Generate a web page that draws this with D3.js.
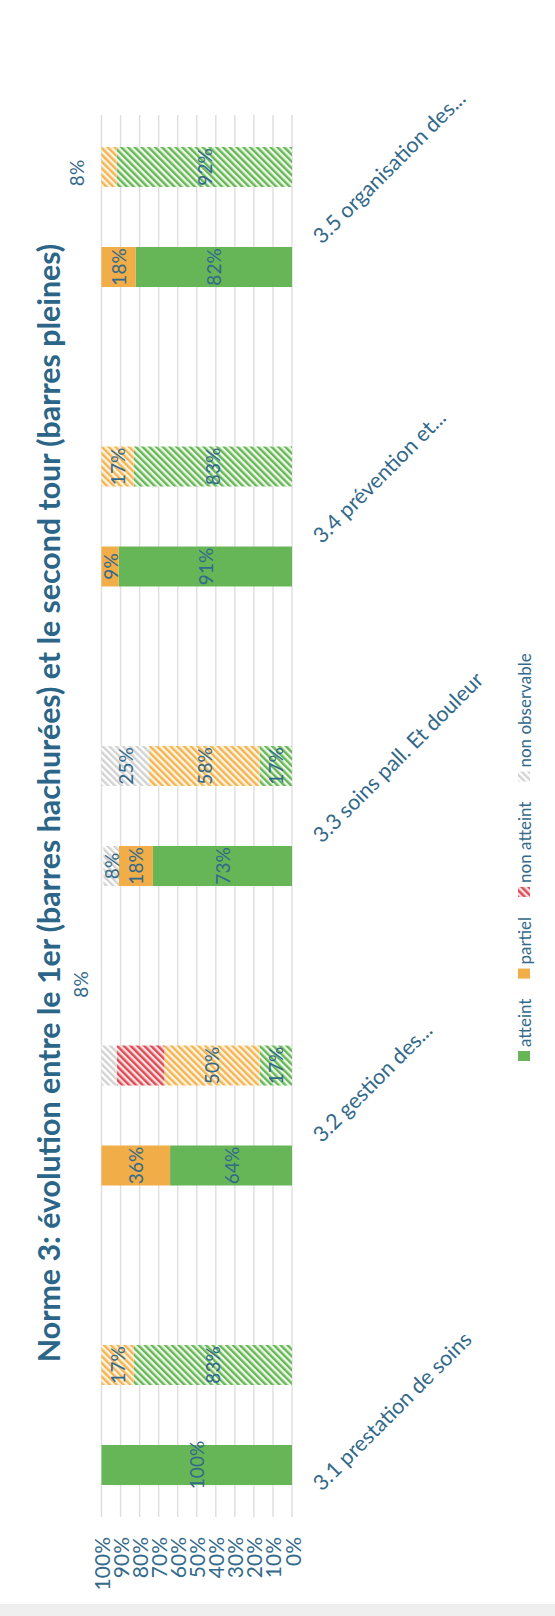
<!DOCTYPE html>
<html>
<head>
<meta charset="utf-8">
<script src="https://cdn.jsdelivr.net/npm/d3@7"></script>
<style>
  html, body { margin: 0; padding: 0; background: #ffffff; }
  svg { display: block; }
  text { font-family: Lato, "Open Sans", "DejaVu Sans", sans-serif; }
</style>
</head>
<body>
<svg id="chart" width="555" height="1616"></svg>
<script>
// ---- Data -------------------------------------------------------------
const categories = [
  "3.1 prestation de soins",
  "3.2 gestion des...",
  "3.3 soins pall. Et douleur",
  "3.4 prévention et...",
  "3.5 organisation des..."
];
const tours = ["second", "premier"];            // barres pleines, barres hachurées
const statuses = ["atteint", "partiel", "non atteint", "non observable"];

// second tour (barres pleines), in %
const secondAtteint       = [100, 64, 73, 91, 82];
const secondPartiel       = [0, 36, 18, 9, 18];
const secondNonAtteint    = [0, 0, 0, 0, 0];
const secondNonObservable = [0, 0, 8, 0, 0];

// premier tour (barres hachurées), in %
const premierAtteint       = [83, 17, 17, 83, 92];
const premierPartiel       = [17, 50, 58, 17, 8];
const premierNonAtteint    = [0, 25, 0, 0, 0];
const premierNonObservable = [0, 8, 25, 0, 0];

const yTicks = [0, 10, 20, 30, 40, 50, 60, 70, 80, 90, 100];
const titleText = "Norme 3: évolution entre le 1er (barres hachurées) et le second tour (barres pleines)";

// ---- Layout -----------------------------------------------------------
// The chart is laid out in a landscape frame (1616 x 555) and turned
// a quarter turn counter-clockwise onto the portrait page.
const W = 1616, H = 555;
const textColor = "#33698a";
const colors = { "atteint": "#66b657", "partiel": "#f0ad48", "non atteint": "#e04f56", "non observable": "#c8c8c8" };

// labels moved off their tiny segment: [dx along the axis, position across]
const labelMoved = { "premier|1|non observable": [81, 80], "premier|4|partiel": [-6, 76] };
const labelHidden = { "premier|1|non atteint": true };
// extra shift of the first category label along the axis
const catLabelShift = [-49, 0, 0, 0, 0];

const svg = d3.select("#chart");
const defs = svg.append("defs");

// diagonal hatch patterns for the first tour
function hatch(id, stripe, bg) {
  const p = defs.append("pattern")
    .attr("id", id)
    .attr("patternUnits", "userSpaceOnUse")
    .attr("width", 4.8).attr("height", 4.8)
    .attr("patternTransform", "rotate(45)");
  p.append("rect").attr("width", 4.8).attr("height", 4.8).attr("fill", bg);
  p.append("rect").attr("width", 2.4).attr("height", 4.8).attr("fill", stripe);
}
hatch("h-atteint", "#66b757", "#eef7e8");
hatch("h-partiel", "#f2b552", "#fdf3e2");
hatch("h-nonatteint", "#dc4a55", "#fbe1e1");
hatch("h-nonobs", "#d2d2d2", "#ffffff");
const hatchId = { "atteint": "h-atteint", "partiel": "h-partiel", "non atteint": "h-nonatteint", "non observable": "h-nonobs" };

// faint scan edge at the bottom of the page
svg.append("rect").attr("x", 0).attr("y", 1604).attr("width", 555).attr("height", 12).attr("fill", "#efefef");

const g = svg.append("g").attr("transform", `translate(0,${W}) rotate(-90)`);

// ---- Scales -----------------------------------------------------------
const x0 = d3.scaleBand().domain(categories).range([51.25, 1548.75]).padding(0);
const x1 = d3.scaleBand().domain(tours).range([-70, 70]).paddingInner(0.6).paddingOuter(0);
const y = d3.scaleLinear().domain([0, 100]).range([292, 101.5]);
const cx = c => x0(c) + x0.bandwidth() / 2;

// ---- Grid & value axis ------------------------------------------------
g.append("g").selectAll("line").data(yTicks).join("line")
  .attr("x1", 99).attr("x2", 1501)
  .attr("y1", d => y(d)).attr("y2", d => y(d))
  .attr("stroke", "#dedede").attr("stroke-width", 1.4);

g.append("g").selectAll("text").data(yTicks).join("text")
  .attr("x", 79).attr("y", d => y(d))
  .attr("text-anchor", "end").attr("dominant-baseline", "central")
  .attr("font-size", 21).attr("fill", textColor)
  .text(d => d + "%");

// ---- Stacked bars -----------------------------------------------------
const series = {
  second:  [secondAtteint, secondPartiel, secondNonAtteint, secondNonObservable],
  premier: [premierAtteint, premierPartiel, premierNonAtteint, premierNonObservable]
};
const stack = d3.stack().keys(statuses);

tours.forEach(tour => {
  const rows = categories.map((c, i) => {
    const r = { cat: c, idx: i };
    statuses.forEach((s, k) => { r[s] = series[tour][k][i]; });
    return r;
  });
  const layers = stack(rows);
  const tg = g.append("g");
  layers.forEach(layer => {
    const s = layer.key;
    const fill = tour === "second" && (s === "atteint" || s === "partiel")
      ? colors[s] : `url(#${hatchId[s]})`;
    tg.append("g").selectAll("rect").data(layer.filter(d => d[1] > d[0])).join("rect")
      .attr("x", d => cx(d.data.cat) + x1(tour))
      .attr("width", x1.bandwidth())
      .attr("y", d => y(d[1]))
      .attr("height", d => y(d[0]) - y(d[1]))
      .attr("fill", fill);
    tg.append("g").selectAll("text")
      .data(layer.filter(d => d[1] > d[0] && !labelHidden[`${tour}|${d.data.idx}|${s}`]))
      .join("text")
      .attr("x", d => {
        const m = labelMoved[`${tour}|${d.data.idx}|${s}`];
        return cx(d.data.cat) + x1(tour) + x1.bandwidth() / 2 + (m ? m[0] : 0);
      })
      .attr("y", d => {
        const m = labelMoved[`${tour}|${d.data.idx}|${s}`];
        return m ? m[1] : (y(d[0]) + y(d[1])) / 2;
      })
      .attr("text-anchor", "middle").attr("dominant-baseline", "central")
      .attr("font-size", 19).attr("fill", textColor)
      .text(d => (d[1] - d[0]) + "%");
  });
});

// ---- Category labels --------------------------------------------------
g.append("g").selectAll("text").data(categories).join("text")
  .attr("transform", (c, i) => `translate(${cx(c) - 28 + catLabelShift[i]},322) rotate(45)`)
  .attr("text-anchor", "start")
  .attr("font-size", 21.5).attr("fill", textColor)
  .text(c => c);

// ---- Title ------------------------------------------------------------
const title = g.append("text")
  .attr("x", 813).attr("y", 60)
  .attr("text-anchor", "middle")
  .attr("font-size", 25).attr("font-weight", "bold").attr("fill", "#2b6688")
  .text(titleText);
// size the title so it runs across 1119 px
const tLen = title.node().getComputedTextLength();
title.attr("font-size", 25 * 1119 / tLen);

// ---- Legend -----------------------------------------------------------
const legend = g.append("g");
let lx = 555;
statuses.forEach(s => {
  const solid = s === "atteint" || s === "partiel";
  legend.append("rect")
    .attr("x", lx).attr("y", 518).attr("width", 10).attr("height", 12)
    .attr("fill", solid ? colors[s] : `url(#${hatchId[s]})`);
  const t = legend.append("text")
    .attr("x", lx + 14).attr("y", 524)
    .attr("dominant-baseline", "central")
    .attr("font-size", 17).attr("fill", textColor)
    .text(s);
  lx += 14 + t.node().getComputedTextLength() + 20;
});
</script>
</body>
</html>
